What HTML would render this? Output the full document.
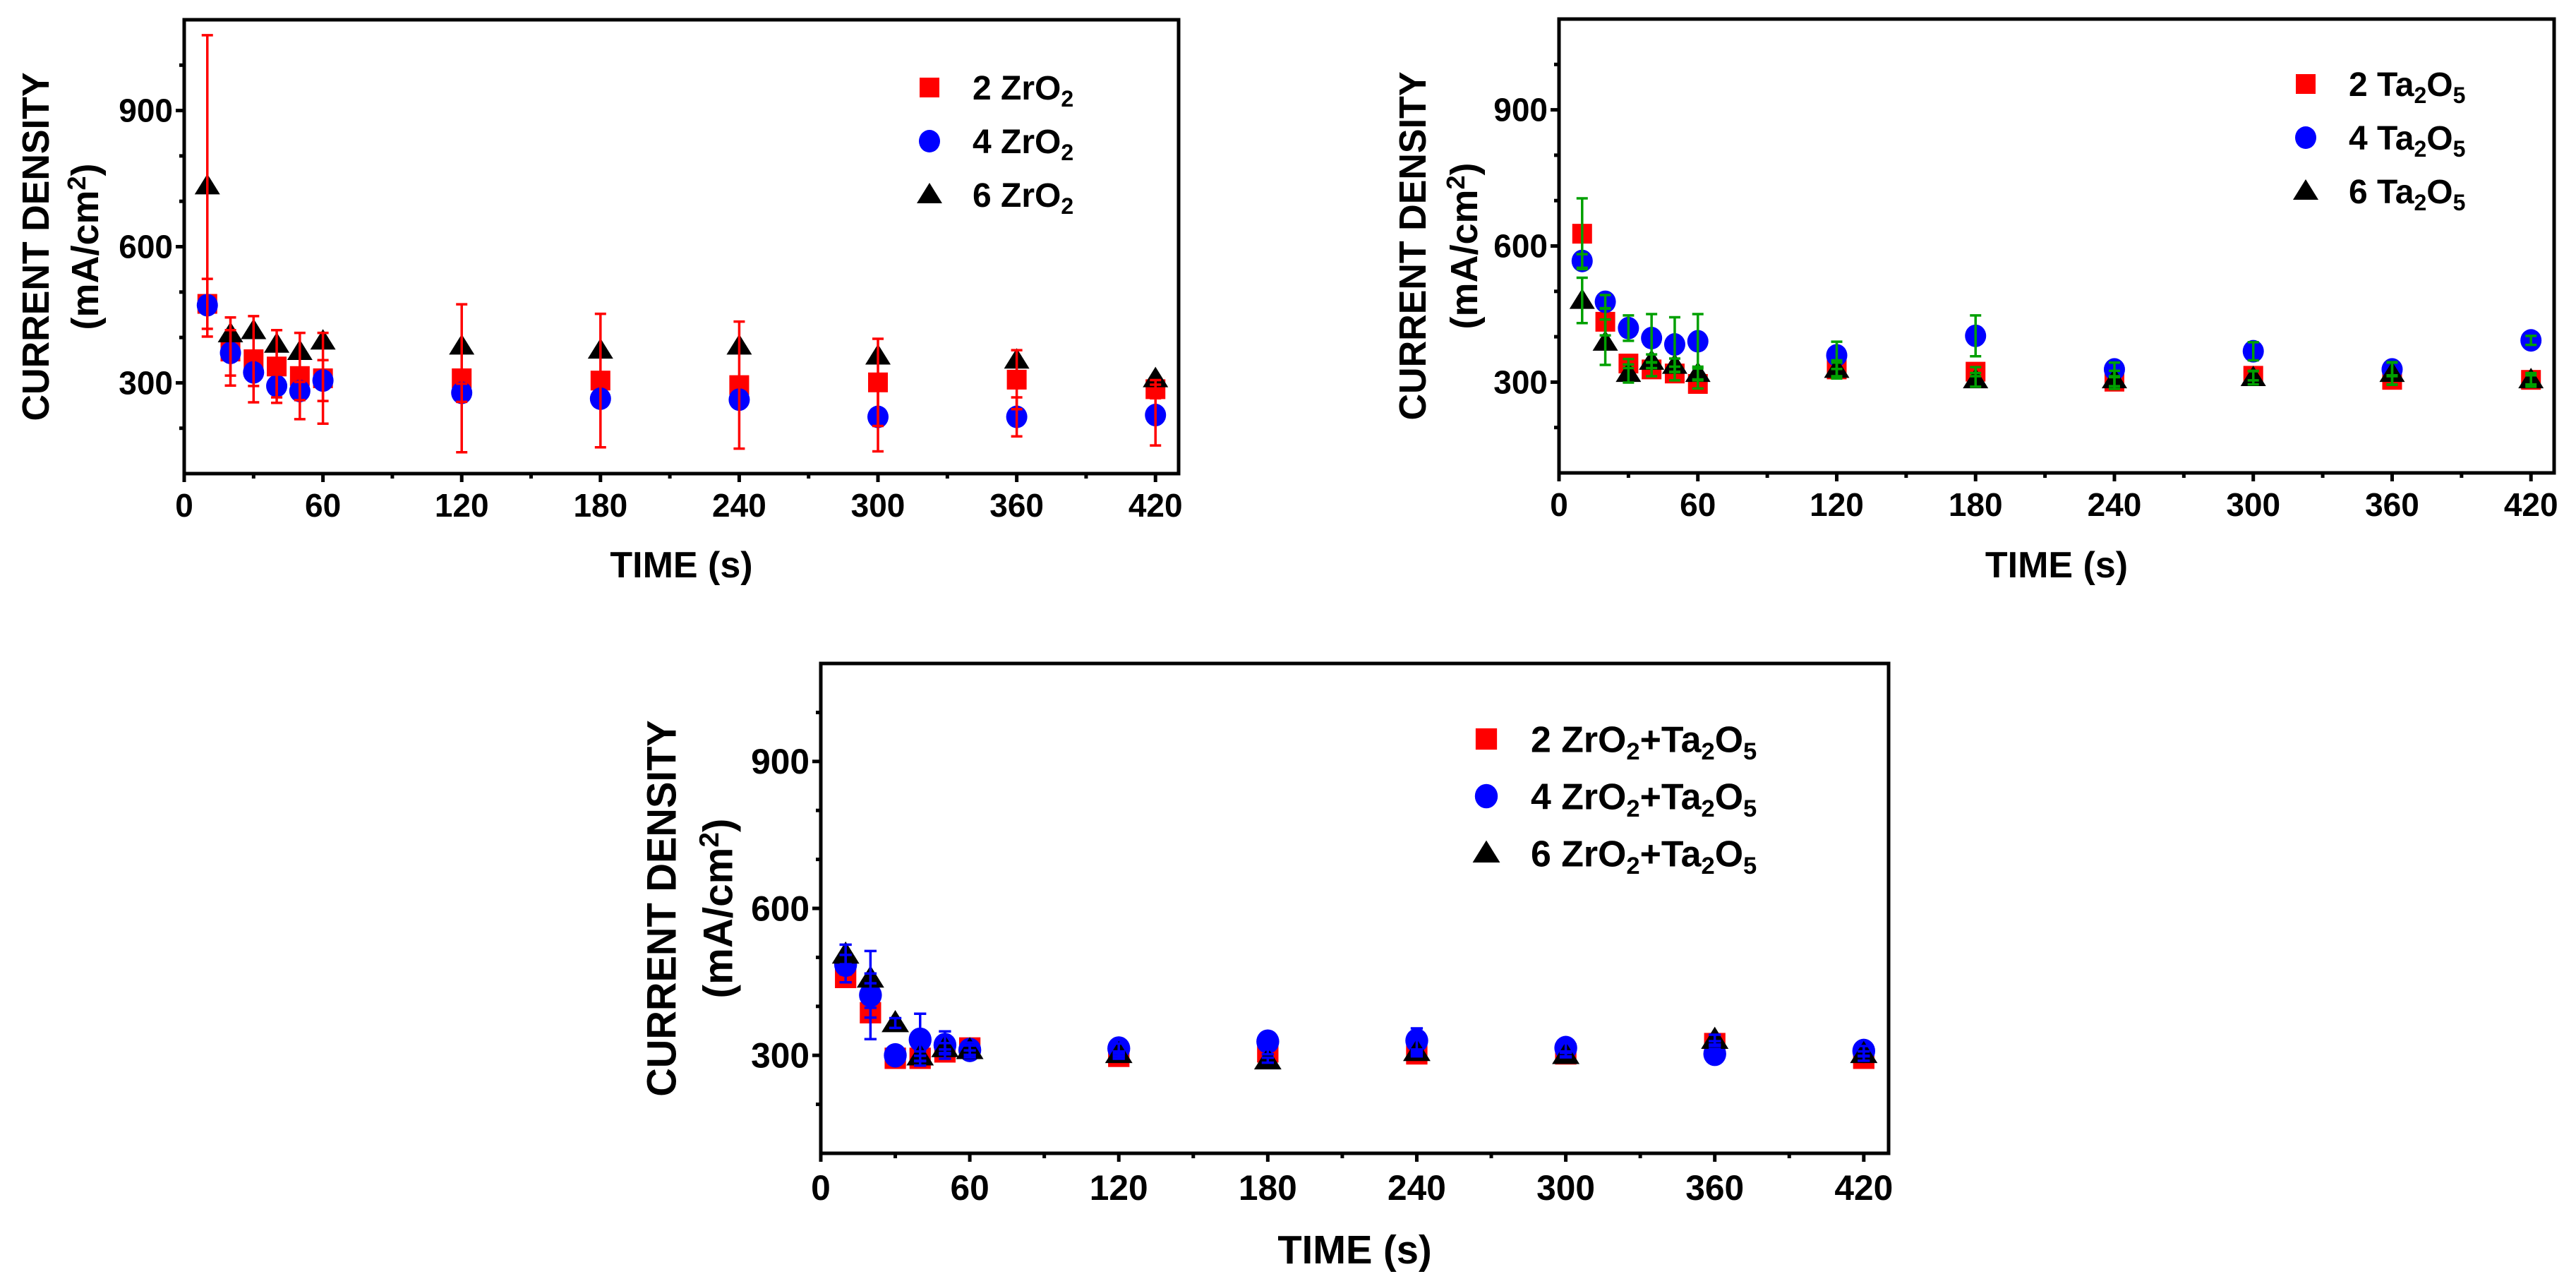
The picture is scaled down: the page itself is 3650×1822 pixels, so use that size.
<!DOCTYPE html>
<html><head><meta charset="utf-8"><style>
html,body{margin:0;padding:0;background:#fff;}
svg{display:block;font-family:"Liberation Sans",Arial,sans-serif;font-weight:bold;}
</style></head><body>
<svg id="fig" width="3650" height="1822" viewBox="0 0 3650 1822" xmlns="http://www.w3.org/2000/svg"></svg>
<script>
const times = [10,20,30,40,50,60,120,180,240,300,360,420];
const xTicks = [0,60,120,180,240,300,360,420];
const yTicks = [300,600,900];
// Panel 1: ZrO2
const zr2 = [474,369,352,336,315,310,310,305,295,301,307,286];
const zr4 = [471,366,323,293,282,305,278,265,263,225,225,229];
const zr6 = [734,408,415,385,369,392,381,372,381,359,350,309];
const zr2Err = [55,75,95,80,95,100,163,147,140,96,65,20];
const zr4Err = [0,50,30,25,20,45,20,0,0,76,43,67];
const zr6Err = [332,0,0,0,0,0,0,0,0,0,0,0];
// Panel 2: Ta2O5
const ta2 = [627,433,341,328,319,296,328,323,301,314,305,305];
const ta4 = [567,477,419,397,383,390,359,402,328,368,328,392];
const ta6 = [480,388,319,346,337,319,328,305,305,310,319,305];
const ta2Err = [78,30,10,15,15,10,15,10,10,10,10,10];
const ta4Err = [15,15,28,53,60,60,30,45,15,20,15,10];
const ta6Err = [50,50,20,15,15,15,20,15,20,15,25,15];
// Panel 3: ZrO2+Ta2O5
const mx2 = [459,387,294,294,307,315,298,307,303,303,324,294];
const mx4 = [485,423,300,332,321,311,314,328,330,315,303,309];
const mx6 = [506,457,366,298,315,311,303,290,307,301,332,303];
const mx2Err = [10,10,5,5,5,5,5,5,5,5,5,5];
const mx4Err = [20,90,10,53,28,15,10,15,25,10,10,10];
const mx6Err = [20,10,10,10,10,10,5,5,5,5,10,5];

const NS="http://www.w3.org/2000/svg";
const svg=document.getElementById('fig');
function mk(tag,attrs,parent){const e=document.createElementNS(NS,tag);for(const k in attrs)e.setAttribute(k,attrs[k]);(parent||svg).appendChild(e);return e;}

function panel(cfg){
  const g=mk('g',{});
  
  
  const s=cfg.s;
  const X=v=>cfg.x0+(v-0)/(430-0)*(cfg.x1-cfg.x0);
  const Y=v=>cfg.yb-(v-100)/(1100-100)*(cfg.yb-cfg.yt);
  // ticks
  for(let v=0;v<=420;v+=30){
    const major=v%60===0;
    const t=mk('line',{x1:X(v),x2:X(v),y1:cfg.yb,y2:cfg.yb+(major?12:7),stroke:'#000','stroke-width':5},g);
    
    
  }
  for(let v=200;v<=1000;v+=100){
    const major=v%300===0;
    const t=mk('line',{x1:cfg.x0,x2:cfg.x0-(major?12:7),y1:Y(v),y2:Y(v),stroke:'#000','stroke-width':5},g);
    
    
  }
  xTicks.forEach(v=>{
    const t=mk('text',{x:X(v),y:cfg.yb+61*s,'font-size':46*s,'text-anchor':'middle'},g);t.textContent=v;
    
    
  });
  yTicks.forEach(v=>{
    const t=mk('text',{x:cfg.x0-16,y:Y(v)+16*s,'font-size':46*s,'text-anchor':'end'},g);t.textContent=v;
    
    
  });
  // titles
  const xt=mk('text',{x:(cfg.x0+cfg.x1)/2,y:cfg.titleY,'font-size':52*s,'text-anchor':'middle'},g);xt.textContent='TIME (s)';
  
  
  const cy=(cfg.yt+cfg.yb)/2+cfg.ytOff;
  const y1=mk('text',{x:0,y:0,'font-size':54*s,'text-anchor':'middle',textLength:494*s,lengthAdjust:'spacingAndGlyphs',transform:`translate(${cfg.x0-cfg.l1+20*s},${cy}) rotate(-90)`},g);y1.textContent='CURRENT DENSITY';
  
  
  const y2=mk('text',{x:0,y:0,'font-size':54*s,'text-anchor':'middle',transform:`translate(${cfg.x0-cfg.l2+20*s},${cy}) rotate(-90)`},g);
  y2.innerHTML='(mA/cm<tspan font-size="'+(36*s)+'" dy="'+(-18*s)+'">2</tspan><tspan dy="'+(18*s)+'">)</tspan>';
  
  
  // markers
  const marker=(type,cx,cy2,par)=>{
    let e;
    if(type==='sq') e=mk('rect',{x:cx-14*s,y:cy2-14*s,width:28*s,height:28*s,fill:'#ff0000'},par);
    else if(type==='ci') e=mk('ellipse',{cx:cx,cy:cy2,rx:15*s,ry:16*s,fill:'#0000ff'},par);
    else e=mk('polygon',{points:`${cx},${cy2-17*s} ${cx-18*s},${cy2+12*s} ${cx+18*s},${cy2+12*s}`,fill:'#000'},par);
    return e;
  };
  const types=['sq','ci','tr'];
  const names=['series-2','series-4','series-6'];
  cfg.series.forEach((vals,i)=>{
    vals.forEach((v,j)=>{
      const m=marker(types[i],X(times[j]),Y(v),g);
      
      
    });
  });
  cfg.errs.forEach((errs,i)=>{
    errs.forEach((e,j)=>{
      if(!e) return;
      const v=cfg.series[i][j],x=X(times[j]);
      const eg=mk('g',{stroke:cfg.errColor,'stroke-width':3.5},g);
      
      
      mk('line',{x1:x,x2:x,y1:Y(v-e),y2:Y(v+e)},eg);
      mk('line',{x1:x-8*s,x2:x+8*s,y1:Y(v-e),y2:Y(v-e)},eg);
      mk('line',{x1:x-8*s,x2:x+8*s,y1:Y(v+e),y2:Y(v+e)},eg);
    });
  });
  // frame
  const fr=mk('rect',{x:cfg.x0,y:cfg.yt,width:cfg.x1-cfg.x0,height:cfg.yb-cfg.yt,fill:'none',stroke:'#000','stroke-width':5},g);
  
  
  // legend
  cfg.legend.forEach((lab,i)=>{
    const ly=cfg.legY+i*cfg.legGap;
    const m=marker(types[i],cfg.legX,ly,g);
    
    
    const t=mk('text',{x:cfg.legTX,y:ly+17*s,'font-size':48*s},g);
    t.innerHTML=lab.replace(/_(\d)/g,'<tspan font-size="'+(32*s)+'" dy="'+(10*s)+'">$1</tspan><tspan dy="'+(-10*s)+'">\u200b</tspan>');
    
    
  });
}

panel({name:'panel-zro2',x0:261,x1:1670,yt:28,yb:671,s:1,titleY:818,ytOff:0,l1:212,l2:142,
  series:[zr2,zr4,zr6],errs:[zr2Err,zr4Err,zr6Err],errColor:'#ff0000',
  legX:1317,legY:124,legGap:76,legTX:1378,legend:['2 ZrO_2','4 ZrO_2','6 ZrO_2']});
panel({name:'panel-ta2o5',x0:2209,x1:3619,yt:27,yb:670,s:1,titleY:818,ytOff:0,l1:209,l2:136,
  series:[ta2,ta4,ta6],errs:[ta2Err,ta4Err,ta6Err],errColor:'#00a000',
  legX:3267,legY:119,legGap:76,legTX:3328,legend:['2 Ta_2O_5','4 Ta_2O_5','6 Ta_2O_5']});
panel({name:'panel-zro2-ta2o5',x0:1163,x1:2676,yt:940,yb:1634,s:1.08,titleY:1790,ytOff:0,l1:227,l2:147,
  series:[mx2,mx4,mx6],errs:[mx2Err,mx4Err,mx6Err],errColor:'#0000ff',
  legX:2106,legY:1047,legGap:81,legTX:2169,legend:['2 ZrO_2+Ta_2O_5','4 ZrO_2+Ta_2O_5','6 ZrO_2+Ta_2O_5']});
</script>
</body></html>
